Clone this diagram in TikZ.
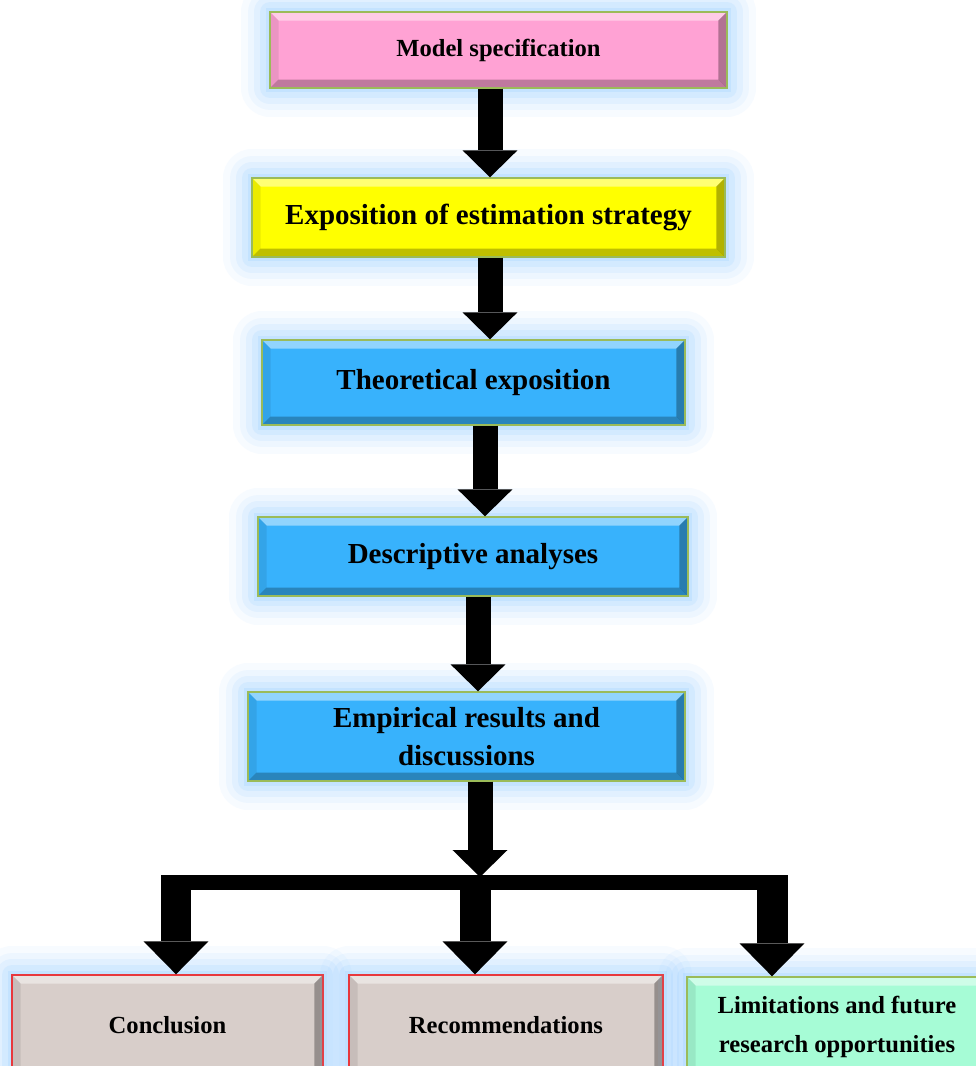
\documentclass[tikz,border=0pt]{standalone}
\usepackage{fontspec}
\setmainfont{Liberation Serif}
\usetikzlibrary{arrows.meta,calc}

\definecolor{pinkbox}{HTML}{FFA2D4}
\definecolor{yellowbox}{HTML}{FFFF00}
\definecolor{bluebox}{HTML}{38B2FC}
\definecolor{greybox}{HTML}{D8CECA}
\definecolor{mintbox}{HTML}{A6FCD6}
\definecolor{boxedge}{HTML}{9BBB59}
\definecolor{redline}{HTML}{E8383C}
\definecolor{glowc}{HTML}{8FCBFF}

\newcommand{\bev}{0.17cm}

\tikzset{
  bevel/.style={path picture={
    \coordinate (sw) at (path picture bounding box.south west);
    \coordinate (ne) at (path picture bounding box.north east);
    \coordinate (nw) at (sw |- ne);
    \coordinate (se) at (ne |- sw);
    \fill[white,opacity=.45] (nw) -- (ne) -- ++(-\bev,-\bev) -- ($(nw)+(\bev,-\bev)$) -- cycle;
    \fill[black,opacity=.08] (nw) -- (sw) -- ++(\bev,\bev) -- ($(nw)+(\bev,-\bev)$) -- cycle;
    \fill[black,opacity=.25] (sw) -- (se) -- ++(-\bev,\bev) -- ($(sw)+(\bev,\bev)$) -- cycle;
    \fill[black,opacity=.3] (se) -- (ne) -- ++(-\bev,-\bev) -- ($(se)+(-\bev,\bev)$) -- cycle;
  }},
  glow/.style={
    preaction={draw=glowc,line width=1.15cm,opacity=.07,line join=round},
    preaction={draw=glowc,line width=0.9cm,opacity=.09,line join=round},
    preaction={draw=glowc,line width=0.65cm,opacity=.12,line join=round},
    preaction={draw=glowc,line width=0.4cm,opacity=.16,line join=round},
    preaction={draw=glowc,line width=0.18cm,opacity=.22}},
  box/.style={draw=boxedge,line width=0.8pt,glow,bevel,align=center,inner sep=0pt,
    font=\bfseries\fontsize{16.5}{20.5}\selectfont},
  smallbox/.style={box,font=\bfseries\fontsize{14}{22}\selectfont},
  bigarrow/.style={line width=0.5cm,-{Triangle[width=1.1cm,length=0.54cm,line width=0pt]}},
  droparrow/.style={line width=0.62cm,-{Triangle[width=1.3cm,length=0.66cm,line width=0pt]}},
}

\begin{document}
\begin{tikzpicture}[x=0.02cm,y=-0.02cm]
	\useasboundingbox (0,0) rectangle (976,1066);
	\fill[white] (0,0) rectangle (976,1066);

	% main chain
	\node[smallbox, fill=pinkbox, minimum width=9.14cm, minimum height=1.52cm] (model) at (498.5,50) {Model specification};
	\node[box, fill=yellowbox, minimum width=9.46cm, minimum height=1.58cm] (expo) at (488.5,217.5) {Exposition of estimation strategy};
	\node[box, fill=bluebox, minimum width=8.46cm, minimum height=1.7cm] (theory) at (473.5,382.5) {Theoretical exposition};
	\node[box, fill=bluebox, minimum width=8.6cm, minimum height=1.58cm] (desc) at (473,556.5) {Descriptive analyses};
	\node[box, fill=bluebox, minimum width=8.74cm, minimum height=1.78cm] (emp) at (466.5,736.5) {\raisebox{-0.1cm}{\shortstack{Empirical results and\\[0.12cm]discussions}}};

	% outcomes
	\node[smallbox, draw=redline, fill=greybox, minimum width=6.22cm, minimum height=2cm] (concl) at (167.5,1025) {Conclusion};
	\node[smallbox, draw=redline, fill=greybox, minimum width=6.28cm, minimum height=2cm] (recom) at (506,1025) {Recommendations};
	\node[smallbox, fill=mintbox, minimum width=6cm, minimum height=2cm] (limit) at (837,1027) {Limitations and future\\research opportunities};

	\foreach \a/\b/\x in {model/expo/490, expo/theory/490, theory/desc/485, desc/emp/478}
		\draw[bigarrow] (\x,0 |- \a.south) -- (\x,0 |- \b.north);

	% split
	\coordinate (hub) at (480,877);
	\coordinate (dl) at (176,875);
	\coordinate (dm) at (475,875);
	\coordinate (dr) at (772,875);
	\draw[bigarrow] (emp.south -| hub) -- (hub);
	\draw[line width=0.3cm] ([yshift=-0.15cm]dl) -- ([yshift=-0.15cm]dr);
	\draw[droparrow] (dl) -- (dl |- concl.north);
	\draw[droparrow] (dm) -- (dm |- recom.north);
	\draw[droparrow] (dr) -- (dr |- limit.north);
\end{tikzpicture}
\end{document}
